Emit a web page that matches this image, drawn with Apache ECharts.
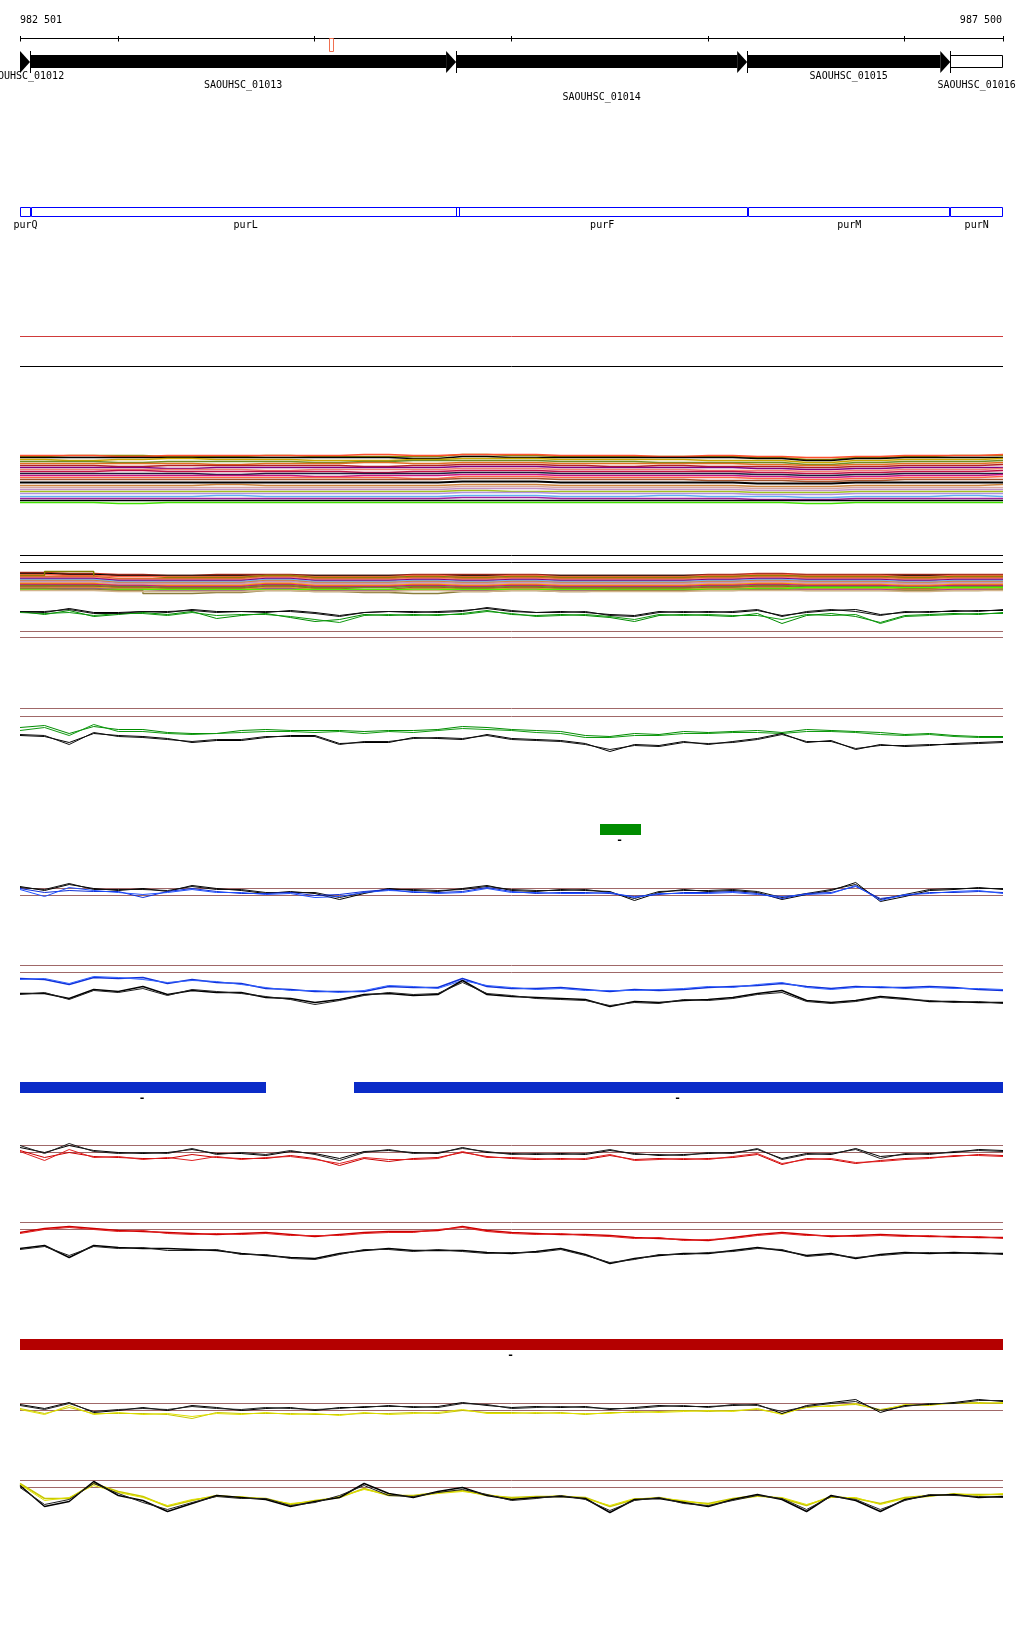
<!DOCTYPE html>
<html><head><meta charset="utf-8">
<script src="https://cdn.jsdelivr.net/npm/echarts@6/dist/echarts.min.js"></script>
<style>html,body{margin:0;padding:0;background:#fff}#c{width:1024px;height:1640px}</style>
</head><body><div id="c"></div>
<script>
// ---------- axis range and ruler ----------
const X_MIN = 982501, X_MAX = 987500;
const rulerTicks = [982501, 983000, 984000, 985000, 986000, 987000, 987500];
const rulerLabelPos = [982501, 987500];
const rulerLabels = ['982 501', '987 500'];
const markStart = [984073], markEnd = [984093];

// ---------- gene annotation (locus tags) ----------
const geneNames = ['SAOUHSC_01012', 'SAOUHSC_01013', 'SAOUHSC_01014', 'SAOUHSC_01015', 'SAOUHSC_01016'];
const geneStart = [981600, 982552, 984719, 986199, 987232];
const geneEnd   = [982552, 984719, 986199, 987232, 987900];
const geneFilled = [1, 1, 1, 1, 0];
const geneRow = [0, 1, 2, 0, 1];

// ---------- gene names track ----------
const symNames = ['purQ', 'purL', 'purF', 'purM', 'purN'];
const symStart = [981900, 982557, 984719, 986204, 987232];
const symEnd   = [982557, 984740, 986204, 987232, 987800];

// ---------- feature bars ----------
const greenStart = [985451], greenEnd = [985660], greenStrand = ['-'];
const blueStart = [982501, 984200], blueEnd = [983752, 987900], blueStrand = ['-', '-'];
const redStart = [982400], redEnd = [987900], redStrand = ['-'];

// ---------- sample positions ----------
const tracePos = Array.from({length: 41}, (_, i) => Math.min(X_MAX, X_MIN + i * 125));
const bandPos = Array.from({length: 21}, (_, i) => Math.min(X_MAX, X_MIN + i * 250));

// ---------- panel A: flat tracks ----------
const aRed = [43, 43];
const aBlack = [13, 13];

// ---------- panel B: multi-sample band ----------
const bandB = [
  ['#8a8a00', [54,55,55,54,54,55,54,54,54,56,55,54,54,54,54,53,51,53,54,55,55]],
  ['#ff5030', [55,55,54,55,55,55,55,56,55,56,56,55,55,54,55,54,53,54,55,55,56]],
  ['#000000', [53,53,53,53,53,53,53,53,52,54,53,53,53,53,53,52,50,52,53,53,53]],
  ['#c8a800', [51,50,51,52,51,51,50,50,51,52,52,51,51,51,50,50,48,50,51,51,52]],
  ['#6b8e23', [49,49,48,49,49,49,48,49,50,50,50,49,49,48,48,48,46,48,49,49,50]],
  ['#e07020', [47,47,47,47,46,47,47,48,47,48,48,47,47,47,47,46,45,46,47,47,48]],
  ['#b22222', [45,45,44,45,45,45,45,44,45,46,46,45,44,45,44,44,43,44,45,45,46]],
  ['#800080', [43,43,43,42,43,43,43,43,43,44,44,43,43,43,43,42,41,42,43,43,43]],
  ['#f08070', [41,41,41,41,41,40,41,41,41,42,42,41,41,41,40,40,39,40,41,41,42]],
  ['#c0104a', [39,39,40,39,39,39,39,38,39,40,40,39,39,39,39,38,37,38,39,39,40]],
  ['#1c1c3c', [37,37,37,37,36,37,37,37,37,38,38,37,37,37,37,36,35,36,37,37,37]],
  ['#c71585', [35,35,35,35,35,35,34,35,35,36,36,35,35,35,35,34,33,34,35,35,36]],
  ['#ff6347', [33,33,33,33,33,33,33,33,32,34,34,33,33,33,33,32,31,32,33,33,34]],
  ['#a0522d', [31,31,31,31,31,31,31,31,31,32,32,31,31,31,30,30,29,30,31,31,31]],
  ['#d8a8a0', [23,23,23,23,23,23,23,23,23,24,24,23,23,23,23,22,22,23,23,23,23]],
  ['#cd853f', [25,25,25,25,26,25,25,25,25,26,26,25,25,25,25,24,24,25,25,25,26]],
  ['#c090c8', [21,21,21,21,21,21,21,21,21,22,22,21,21,21,21,20,20,21,21,21,21]],
  ['#a0c020', [19,19,19,19,19,19,19,19,19,20,19,19,19,19,19,18,18,19,19,19,19]],
  ['#b090e0', [17,17,17,17,17,17,17,17,17,18,18,17,17,17,17,16,16,17,17,17,17]],
  ['#60b0f0', [14,14,14,14,15,14,14,14,14,15,15,14,14,15,14,14,13,14,14,15,14]],
  ['#a020a0', [12,12,12,12,12,12,12,12,12,13,13,12,12,12,12,11,11,12,12,12,12]],
  ['#000000', [10,10,10,10,10,10,10,10,10,10,10,10,10,10,10,10,10,10,10,10,10]],
  ['#40e000', [8,8,7,8,8,8,8,8,8,8,8,8,8,8,8,8,7,8,8,8,8]]
];
const bandBThick = [28,28,28,28,28,28,28,28,28,29,29,28,28,28,28,27,27,28,28,28,28];

// ---------- panel C: band + green traces ----------
const cBlackHi = [90, 90];
const cBlackLo = [83, 83];
const bandC = [
  ['#c03020', [73,72,71,70,71,71,70,70,71,71,71,70,70,70,71,72,71,71,71,71,71]],
  ['#000000', [72,71,70,70,70,70,70,70,70,70,70,70,70,70,70,71,70,70,70,70,70]],
  ['#ff6347', [71,70,69,69,69,70,69,69,70,69,70,69,69,69,70,71,70,70,69,70,70]],
  ['#808000', [70,74,66,68,68,70,68,68,69,68,69,68,68,68,69,70,69,69,68,69,69]],
  ['#d2691e', [69,69,67,67,67,69,67,67,68,67,68,67,67,67,68,69,68,68,67,68,68]],
  ['#f08070', [68,68,66,66,66,68,66,66,67,66,67,66,66,66,67,68,67,67,66,67,67]],
  ['#800080', [67,67,65,65,65,67,65,65,66,65,66,65,65,65,66,67,66,66,65,66,66]],
  ['#70b8f0', [66,66,64,64,64,66,64,64,65,64,65,64,64,64,65,66,65,65,64,65,65]],
  ['#cd853f', [65,65,63,63,63,65,63,63,64,63,64,63,63,63,64,65,64,64,63,64,64]],
  ['#c090c8', [64,64,62,62,62,64,62,62,63,62,63,62,62,62,63,64,63,63,62,63,63]],
  ['#d8a8a0', [63,63,61,61,61,63,61,61,62,61,62,61,61,61,62,63,62,62,61,62,62]],
  ['#ff8c00', [62,62,60,60,60,62,60,60,61,60,61,60,60,60,61,62,61,61,60,61,61]],
  ['#c71585', [61,61,60,59,59,61,59,59,60,59,60,59,59,59,60,61,60,60,59,60,60]],
  ['#6b8e23', [60,60,59,58,58,60,58,58,59,58,59,58,58,58,59,60,59,59,58,59,59]],
  ['#a0522d', [59,59,58,57,57,59,57,56,58,57,58,57,57,57,58,59,58,58,57,58,58]],
  ['#daa520', [58,58,57,56,56,58,56,55,57,56,57,56,56,56,57,58,57,57,56,57,57]],
  ['#b030b0', [57,57,56,55,55,57,55,55,56,55,56,55,55,55,56,57,56,56,55,56,56]],
  ['#50f000', [56,56,56,56,56,56,56,56,56,56,56,56,56,56,56,57,58,58,58,58,58]],
  ['#8b7d3a', [57,56,55,52,53,55,54,53,52,54,55,54,55,55,55,56,55,55,55,55,56]],
  ['#d2b48c', [55,55,54,54,54,55,54,54,55,54,55,54,54,54,55,55,55,55,54,55,55]]
];
const g1Black1 = [34,33,37,33,33,34,33,36,34,34,33,35,33,30,33,34,33,34,35,37,34,33,34,33,31,30,34,33,34,33,35,30,33,35,36,31,33,34,34,35,35];
const g1Black2 = [34,34,36,32,32,34,34,35,33,34,34,34,32,29,33,34,34,33,34,38,35,33,33,34,30,29,33,34,33,34,36,29,34,36,34,30,34,33,35,34,36];
const g1Green1 = [34,31,35,29,31,33,31,34,27,30,32,28,24,26,31,30,31,30,32,35,31,30,31,30,28,24,30,31,30,29,32,22,30,32,29,23,30,31,32,31,33];
const g1Green2 = [33,32,33,30,32,32,30,33,30,31,31,29,26,23,30,31,30,31,31,34,32,29,30,31,29,26,31,30,31,30,30,26,31,30,31,22,29,30,31,32,32];
const g1Ref = [14, 8];

// ---------- panel G2 ----------
const g2Ref = [52, 44];
const g2Green1 = [33,35,27,34,31,31,28,27,27,30,31,30,30,30,29,30,30,31,34,33,31,30,29,25,24,27,26,29,28,29,30,28,31,30,29,28,26,27,25,24,24];
const g2Green2 = [30,33,25,36,29,29,27,26,27,28,29,29,28,29,27,29,28,30,32,31,30,28,27,23,23,25,25,27,27,28,28,27,29,29,28,26,25,26,24,23,23];
const g2Black1 = [25,24,18,27,25,24,22,18,20,20,23,25,25,17,18,18,23,22,21,26,22,21,20,17,9,16,15,19,16,19,22,27,18,20,11,16,14,15,17,18,19];
const g2Black2 = [26,25,16,28,24,23,21,19,21,21,24,24,24,16,19,19,22,23,22,25,21,20,19,16,11,15,14,18,17,18,21,26,19,19,12,15,15,16,16,17,18];

// ---------- panel B1 ----------
const b1Ref = [32, 25];
const b1Black1 = [34,30,36,32,30,32,29,35,32,30,27,29,27,21,27,32,30,29,32,35,30,29,31,30,29,20,28,31,29,30,28,21,26,30,38,19,24,30,31,33,31];
const b1Black2 = [33,31,37,31,31,31,30,34,31,31,28,28,28,23,28,31,31,30,31,34,31,30,30,31,28,22,29,30,30,31,29,23,27,31,36,21,26,31,32,32,32];
const b1Blue1 = [32,28,30,29,29,23,29,32,29,27,27,28,25,26,29,31,28,28,29,33,29,27,28,28,27,24,26,28,28,29,27,22,27,28,34,22,25,28,28,29,28];
const b1Blue2 = [31,24,33,30,28,26,28,31,28,28,26,27,23,24,28,30,29,27,28,32,28,28,27,27,28,23,27,27,27,28,26,24,26,27,35,20,26,27,29,30,27];

// ---------- panel B2 ----------
const b2Ref = [55, 48];
const b2Blue1 = [42,41,36,43,42,43,37,41,38,37,32,31,29,29,29,34,33,33,42,34,32,32,33,31,29,31,30,31,33,34,35,37,34,32,34,33,33,34,33,31,30];
const b2Blue2 = [41,42,37,44,43,41,38,40,39,36,33,30,30,28,30,35,34,32,40,35,33,31,32,30,30,30,31,32,34,33,36,38,33,31,33,34,32,33,32,32,31];
const b2Black1 = [27,27,22,31,29,34,26,30,28,28,23,22,18,21,26,27,25,26,40,26,24,23,22,21,14,19,18,20,21,23,27,30,20,18,20,24,22,19,19,18,18];
const b2Black2 = [26,28,21,30,28,32,25,31,29,27,24,21,16,20,25,28,26,27,38,27,25,22,21,20,15,18,17,21,20,22,26,28,19,17,19,23,21,20,18,19,17];

// ---------- panel R1 ----------
const r1Ref = [35, 28];
const r1Black1 = [33,28,35,30,28,27,28,31,27,27,25,29,27,22,29,30,28,27,33,28,27,26,27,26,30,27,25,26,27,28,31,22,27,26,32,24,26,27,28,31,30];
const r1Black2 = [35,27,37,29,27,28,27,32,26,28,26,30,26,20,28,31,27,28,32,29,26,27,26,27,31,26,26,25,28,27,32,21,26,27,31,22,27,26,29,30,29];
const r1Red1 = [30,23,28,24,23,22,22,26,23,22,22,25,22,15,22,19,22,23,28,24,22,21,22,21,25,21,22,21,22,23,26,16,22,21,17,20,22,23,24,26,25];
const r1Red2 = [29,20,31,23,24,21,23,20,24,21,23,24,21,17,23,21,21,22,29,23,23,22,21,22,26,20,21,22,21,24,27,17,21,22,18,19,21,22,25,25,24];

// ---------- panel R2 ----------
const r2Ref = [58, 51];
const r2Red1 = [48,52,54,52,50,49,48,47,46,47,48,46,44,46,48,49,49,50,54,50,48,47,46,46,45,43,42,41,40,43,46,48,46,44,45,46,45,44,44,43,43];
const r2Red2 = [47,51,53,51,49,50,47,46,47,46,47,45,45,45,47,48,48,51,53,49,47,46,47,45,44,42,43,40,41,42,45,47,45,45,44,45,44,45,43,44,42];
const r2Black1 = [32,35,23,35,33,32,32,31,30,27,25,23,22,27,30,32,30,30,30,28,27,29,32,26,17,22,25,27,27,30,33,30,25,27,22,26,28,27,28,27,27];
const r2Black2 = [31,34,25,34,32,33,30,30,31,26,26,22,21,26,31,31,29,31,29,27,28,28,31,25,18,21,26,26,28,29,32,31,24,26,23,25,27,28,27,28,26];

// ---------- panel Y1 ----------
const y1Ref = [37, 30];
const y1Black1 = [36,32,38,28,30,33,30,35,33,30,32,33,30,33,33,35,33,34,38,35,33,34,33,34,31,33,35,34,34,35,36,27,35,38,41,28,35,36,38,41,39];
const y1Black2 = [35,31,37,29,31,32,31,34,32,31,33,32,31,32,34,34,34,33,37,36,32,33,34,33,32,32,34,35,33,36,35,29,34,37,39,30,34,37,37,40,40];
const y1Yellow1 = [32,27,33,27,27,27,26,22,28,27,27,27,26,26,27,27,28,27,30,28,28,27,28,26,28,28,29,30,29,30,31,27,33,35,36,31,35,36,37,38,37];
const y1Yellow2 = [31,26,35,26,28,26,27,24,27,26,28,26,27,25,28,26,27,28,31,27,27,28,27,27,27,29,28,29,30,29,32,26,34,34,37,30,36,35,38,37,38];

// ---------- panel Y2 ----------
const y2Ref = [55, 48];
const y2Black1 = [50,29,34,54,40,35,24,32,40,38,36,29,34,38,52,42,38,44,48,40,36,38,39,37,23,36,37,33,29,36,41,36,24,40,35,24,36,40,41,38,39];
const y2Black2 = [48,31,36,52,42,33,26,33,39,37,37,30,33,40,50,40,39,43,46,41,35,37,40,36,25,35,38,32,30,35,40,37,26,39,36,26,35,41,40,39,38];
const y2Yellow1 = [52,37,37,52,44,39,29,35,40,38,37,31,35,38,47,40,40,43,45,40,38,39,39,38,29,36,38,34,32,37,40,37,30,39,37,32,38,40,41,41,41];
const y2Yellow2 = [51,35,38,50,43,38,30,36,39,39,36,32,34,39,46,41,39,42,44,41,37,38,40,37,30,37,37,35,31,36,39,38,31,38,38,31,37,39,42,40,42];

// ================= build option =================
const FONT = '10px "DejaVu Sans Mono", "Liberation Mono", monospace';
const DASH_FONT = 'bold 11px "DejaVu Sans Mono", monospace';
const grids = [], xAxes = [], yAxes = [], series = [];
function addGrid(top, height) {
  const i = grids.length;
  grids.push({left: 20, right: 21, top: top, height: height, containLabel: false});
  xAxes.push({type: 'value', gridIndex: i, min: X_MIN, max: X_MAX, show: false});
  yAxes.push({type: 'value', gridIndex: i, min: 0, max: height, show: false});
  return i;
}
function addLine(gi, xs, ys, color, width, step) {
  series.push({
    type: 'line', xAxisIndex: gi, yAxisIndex: gi,
    data: ys.map((v, k) => [xs[k], v]),
    showSymbol: false, symbol: 'none', silent: true, animation: false,
    step: step || false,
    lineStyle: {color: color, width: width || 1}
  });
}
function addFlat(gi, v, color) {
  addLine(gi, [X_MIN, X_MAX], [v, v], color, 1);
}
const crisp = v => Math.round(v) + 0.5;

// ruler
const gRuler = addGrid(38, 14);
series.push({
  type: 'custom', xAxisIndex: gRuler, yAxisIndex: gRuler, silent: true, animation: false,
  data: rulerTicks.map(v => [v, 0]),
  renderItem(params, api) {
    const cs = params.coordSys;
    const x = crisp(api.coord([api.value(0), 0])[0] - 0.5);
    const y = crisp(cs.y);
    const ch = [{type: 'line', shape: {x1: x, y1: y - 2.5, x2: x, y2: y + 3}, style: {stroke: '#000', lineWidth: 1}}];
    if (params.dataIndex === 0) ch.push({type: 'line', shape: {x1: cs.x, y1: y, x2: cs.x + cs.width, y2: y}, style: {stroke: '#000', lineWidth: 1}});
    return {type: 'group', children: ch};
  }
});
series.push({
  type: 'custom', xAxisIndex: gRuler, yAxisIndex: gRuler, silent: true, animation: false,
  data: rulerLabelPos.map(v => [v, 0]),
  renderItem(params, api) {
    const cs = params.coordSys;
    const x = api.coord([api.value(0), 0])[0];
    const first = params.dataIndex === 0;
    return {type: 'text', x: first ? x : x - 1, y: cs.y - 18,
      style: {text: rulerLabels[params.dataIndex], font: FONT, fill: '#000', align: first ? 'left' : 'right', verticalAlign: 'middle'}};
  }
});
series.push({
  type: 'custom', xAxisIndex: gRuler, yAxisIndex: gRuler, silent: true, animation: false,
  data: markStart.map((s, i) => [s, markEnd[i]]), encode: {x: [0, 1]},
  renderItem(params, api) {
    const cs = params.coordSys;
    const a = api.coord([api.value(0), 0])[0], b = api.coord([api.value(1), 0])[0];
    return {type: 'rect', shape: {x: crisp(a), y: cs.y + 0.5, width: Math.max(3, Math.round(b - a)), height: 13},
      style: {fill: 'none', stroke: '#f07050', lineWidth: 1}};
  }
});

// genes
const gGene = addGrid(51, 22);
const geneData = geneStart.map((s, i) => [s, geneEnd[i], geneFilled[i], geneRow[i]]);
series.push({
  type: 'custom', xAxisIndex: gGene, yAxisIndex: gGene, silent: true, animation: false,
  data: geneData, encode: {x: [0, 1], y: 2},
  renderItem(params, api) {
    const cs = params.coordSys;
    const L = cs.x, R = cs.x + cs.width, T = cs.y, B = cs.y + cs.height;
    const x0 = api.coord([api.value(0), 0])[0];
    const x1 = api.coord([api.value(1), 0])[0];
    const filled = api.value(2);
    const head = 10, bt = T + 4, bb = T + 17, mid = T + 11;
    const ch = [];
    if (filled) {
      const hx = x1 - head;
      const a = Math.max(x0, L), b = Math.min(hx, R);
      if (b > a) ch.push({type: 'rect', shape: {x: a, y: bt, width: b - a, height: bb - bt}, style: {fill: '#000'}});
      if (x1 <= R + 0.5 && hx >= L - 0.5) ch.push({type: 'polygon', shape: {points: [[hx, T], [x1, mid], [hx, B]]}, style: {fill: '#000'}});
    } else {
      const a = Math.max(x0, L), b = Math.min(x1, R);
      ch.push({type: 'rect', shape: {x: crisp(a), y: bt + 0.5, width: Math.round(b - a) - 1, height: bb - bt - 1}, style: {fill: '#fff', stroke: '#000', lineWidth: 1}});
    }
    if (x0 >= L) ch.push({type: 'line', shape: {x1: crisp(x0), y1: T, x2: crisp(x0), y2: B}, style: {stroke: '#000', lineWidth: 1}});
    return {type: 'group', children: ch};
  }
});
const rowOff = [25, 34, 46];
series.push({
  type: 'custom', xAxisIndex: gGene, yAxisIndex: gGene, silent: true, animation: false,
  data: geneData, encode: {x: [0, 1], y: 2},
  renderItem(params, api) {
    const cs = params.coordSys;
    const L = cs.x, R = cs.x + cs.width;
    const a = Math.max(api.coord([api.value(0), 0])[0], L);
    const b = Math.min(api.coord([api.value(1), 0])[0], R);
    return {type: 'text', x: (a + b) / 2, y: cs.y + rowOff[api.value(3)],
      style: {text: geneNames[params.dataIndex], font: FONT, fill: '#000', align: 'center', verticalAlign: 'middle'}};
  }
});

// gene symbols (blue boxes)
const gSym = addGrid(207, 10);
const symData = symStart.map((s, i) => [s, symEnd[i], 0]);
series.push({
  type: 'custom', xAxisIndex: gSym, yAxisIndex: gSym, silent: true, animation: false,
  data: symData, encode: {x: [0, 1], y: 2},
  renderItem(params, api) {
    const cs = params.coordSys;
    const L = cs.x, R = cs.x + cs.width;
    const a = Math.max(api.coord([api.value(0), 0])[0], L);
    const b = Math.min(api.coord([api.value(1), 0])[0], R);
    return {type: 'group', children: [
      {type: 'rect', shape: {x: crisp(a), y: cs.y + 0.5, width: Math.round(b - a) - 1, height: 9}, style: {fill: 'none', stroke: '#0000ff', lineWidth: 1}},
      {type: 'text', x: (a + b) / 2, y: cs.y + 18, style: {text: symNames[params.dataIndex], font: FONT, fill: '#000', align: 'center', verticalAlign: 'middle'}}
    ]};
  }
});

// panel A
const gA = addGrid(319.5, 60);
addFlat(gA, aRed[0], '#d03a3a');
addFlat(gA, aBlack[0], '#000000');

// panel B
const gB = addGrid(440.5, 70);
bandB.forEach(([c, v]) => addLine(gB, bandPos, v, c, 1.6, 'middle'));
addLine(gB, bandPos, bandBThick, '#000000', 2, 'middle');

// panel C
const gC = addGrid(545.5, 100);
addFlat(gC, cBlackHi[0], '#000000');
addFlat(gC, cBlackLo[0], '#000000');
bandC.forEach(([c, v]) => addLine(gC, bandPos, v, c, 1.4, 'middle'));
addLine(gC, tracePos, g1Green1, '#008c00', 1);
addLine(gC, tracePos, g1Green2, '#109a10', 1);
addLine(gC, tracePos, g1Black1, '#000000', 1);
addLine(gC, tracePos, g1Black2, '#101010', 1);
addFlat(gC, g1Ref[0], '#a06868');
addFlat(gC, g1Ref[1], '#a06868');

// panel G2
const gG2 = addGrid(700.5, 60);
addFlat(gG2, g2Ref[0], '#a06868');
addFlat(gG2, g2Ref[1], '#a06868');
addLine(gG2, tracePos, g2Green1, '#008c00', 1);
addLine(gG2, tracePos, g2Green2, '#109a10', 1);
addLine(gG2, tracePos, g2Black1, '#000000', 1);
addLine(gG2, tracePos, g2Black2, '#101010', 1);

// generic bar track
function addBars(top, starts, ends, strands, color) {
  const gi = addGrid(top, 11);
  series.push({
    type: 'custom', xAxisIndex: gi, yAxisIndex: gi, silent: true, animation: false,
    data: starts.map((s, i) => [s, ends[i], 0]), encode: {x: [0, 1], y: 2},
    renderItem(params, api) {
      const cs = params.coordSys;
      const L = cs.x, R = cs.x + cs.width;
      const a = Math.max(api.coord([api.value(0), 0])[0], L);
      const b = Math.min(api.coord([api.value(1), 0])[0], R);
      return {type: 'group', children: [
        {type: 'rect', shape: {x: Math.round(a), y: cs.y, width: Math.round(b - a), height: cs.height}, style: {fill: color}},
        {type: 'text', x: (a + b) / 2 - 1, y: cs.y + cs.height + 5, style: {text: strands[params.dataIndex], font: DASH_FONT, fill: '#000', align: 'center', verticalAlign: 'middle'}}
      ]};
    }
  });
}
addBars(824, greenStart, greenEnd, greenStrand, '#008c00');

// panel B1
const gB1 = addGrid(870.5, 50);
addFlat(gB1, b1Ref[0], '#a06868');
addFlat(gB1, b1Ref[1], '#a06868');
addLine(gB1, tracePos, b1Black1, '#000000', 1);
addLine(gB1, tracePos, b1Black2, '#101010', 1);
addLine(gB1, tracePos, b1Blue1, '#1030d8', 1);
addLine(gB1, tracePos, b1Blue2, '#2050ff', 1);

// panel B2
const gB2 = addGrid(955.5, 65);
addFlat(gB2, b2Ref[0], '#a06868');
addFlat(gB2, b2Ref[1], '#a06868');
addLine(gB2, tracePos, b2Blue1, '#1030d8', 1.5);
addLine(gB2, tracePos, b2Blue2, '#3060ff', 1);
addLine(gB2, tracePos, b2Black1, '#000000', 1.5);
addLine(gB2, tracePos, b2Black2, '#202020', 1);

addBars(1082, blueStart, blueEnd, blueStrand, '#0a2bc8');

// panel R1
const gR1 = addGrid(1130.5, 50);
addFlat(gR1, r1Ref[0], '#a06868');
addFlat(gR1, r1Ref[1], '#a06868');
addLine(gR1, tracePos, r1Black1, '#000000', 1);
addLine(gR1, tracePos, r1Black2, '#202020', 1);
addLine(gR1, tracePos, r1Red1, '#cc0000', 1);
addLine(gR1, tracePos, r1Red2, '#e02020', 1);

// panel R2
const gR2 = addGrid(1210.5, 70);
addFlat(gR2, r2Ref[0], '#a06868');
addFlat(gR2, r2Ref[1], '#a06868');
addLine(gR2, tracePos, r2Red1, '#cc0000', 1.5);
addLine(gR2, tracePos, r2Red2, '#e02020', 1);
addLine(gR2, tracePos, r2Black1, '#000000', 1.5);
addLine(gR2, tracePos, r2Black2, '#202020', 1);

addBars(1339, redStart, redEnd, redStrand, '#b40000');

// panel Y1
const gY1 = addGrid(1390.5, 50);
addFlat(gY1, y1Ref[0], '#a06868');
addFlat(gY1, y1Ref[1], '#a06868');
addLine(gY1, tracePos, y1Yellow1, '#c8c800', 1);
addLine(gY1, tracePos, y1Yellow2, '#e0e000', 1);
addLine(gY1, tracePos, y1Black1, '#000000', 1);
addLine(gY1, tracePos, y1Black2, '#202020', 1);

// panel Y2
const gY2 = addGrid(1465.5, 70);
addFlat(gY2, y2Ref[0], '#a06868');
addFlat(gY2, y2Ref[1], '#a06868');
addLine(gY2, tracePos, y2Yellow1, '#c8c800', 1.5);
addLine(gY2, tracePos, y2Yellow2, '#e0e000', 1);
addLine(gY2, tracePos, y2Black1, '#000000', 1.5);
addLine(gY2, tracePos, y2Black2, '#202020', 1);

const chart = echarts.init(document.getElementById('c'), null, {renderer: 'canvas'});
chart.setOption({
  backgroundColor: '#ffffff',
  animation: false,
  grid: grids, xAxis: xAxes, yAxis: yAxes,
  series: series
});
</script>
</body></html>
